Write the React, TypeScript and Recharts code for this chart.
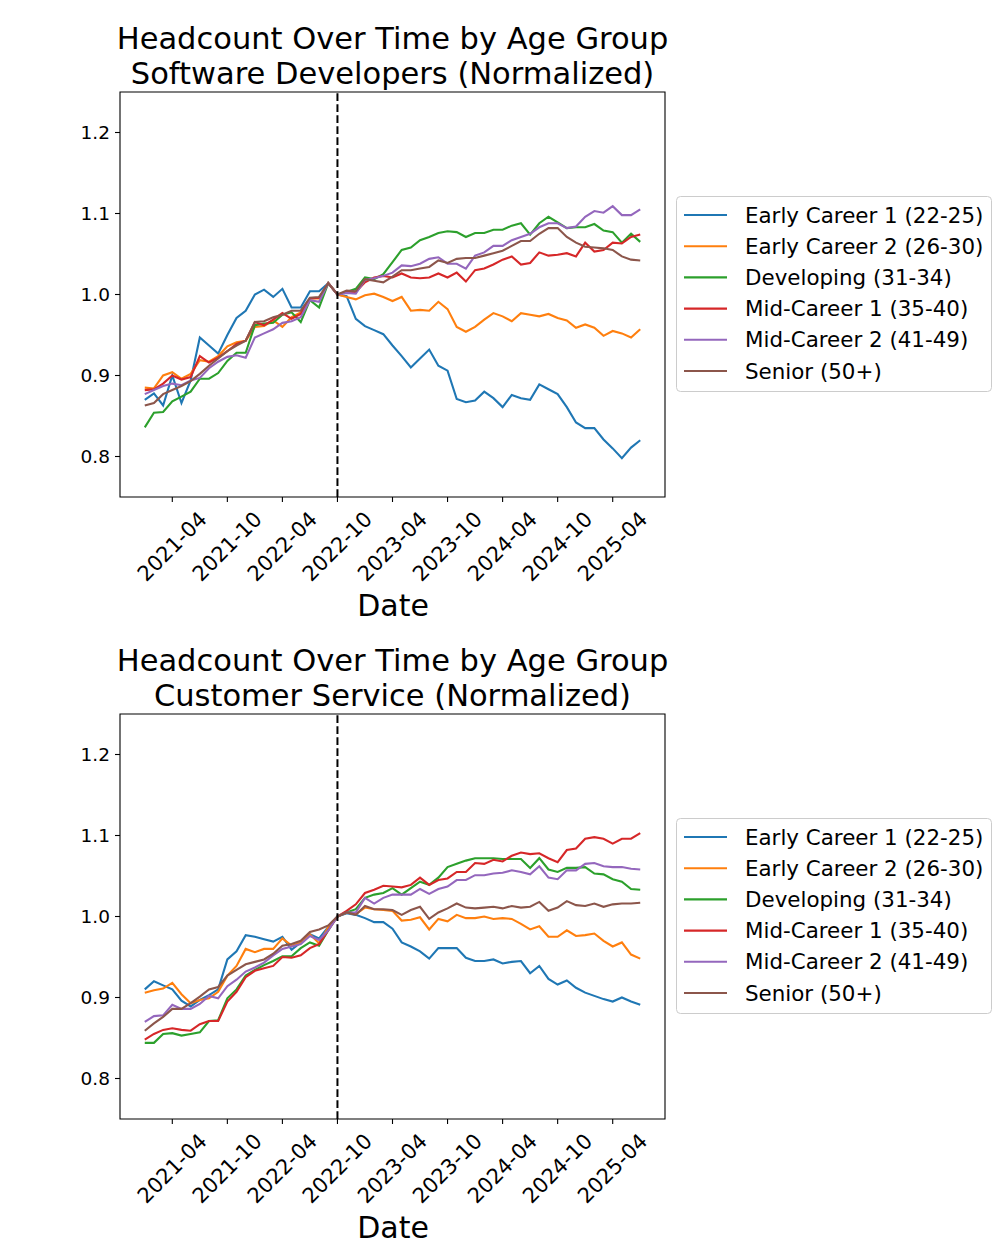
import React from "react";
import { LineChart, Line, XAxis, YAxis, ReferenceLine, ReferenceArea } from "recharts";

const MONTHS = [
  "2021-01", "2021-02", "2021-03", "2021-04", "2021-05", "2021-06", "2021-07", "2021-08", "2021-09", "2021-10", "2021-11", "2021-12",
  "2022-01", "2022-02", "2022-03", "2022-04", "2022-05", "2022-06", "2022-07", "2022-08", "2022-09", "2022-10", "2022-11", "2022-12",
  "2023-01", "2023-02", "2023-03", "2023-04", "2023-05", "2023-06", "2023-07", "2023-08", "2023-09", "2023-10", "2023-11", "2023-12",
  "2024-01", "2024-02", "2024-03", "2024-04", "2024-05", "2024-06", "2024-07", "2024-08", "2024-09", "2024-10", "2024-11", "2024-12",
  "2025-01", "2025-02", "2025-03", "2025-04", "2025-05", "2025-06", "2025-07",
];

const TICK_LABELS = ["2021-04", "2021-10", "2022-04", "2022-10", "2023-04", "2023-10", "2024-04", "2024-10", "2025-04"];
const BASELINE_MONTH = "2022-10";
const Y_TICKS = [0.8, 0.9, 1.0, 1.1, 1.2];

const GROUPS = [
  "Early Career 1 (22-25)",
  "Early Career 2 (26-30)",
  "Developing (31-34)",
  "Mid-Career 1 (35-40)",
  "Mid-Career 2 (41-49)",
  "Senior (50+)",
];
const COLORS = ["#1f77b4", "#ff7f0e", "#2ca02c", "#d62728", "#9467bd", "#8c564b"];

// Software Developers
const SWE_EARLY1 = [0.870, 0.878, 0.863, 0.900, 0.866, 0.894, 0.947, 0.937, 0.927, 0.950, 0.971, 0.980, 1.000, 1.006, 0.997, 1.007, 0.984, 0.984, 1.004, 1.004, 1.014, 1.000, 0.998, 0.970, 0.961, 0.956, 0.951, 0.937, 0.924, 0.910, 0.921, 0.932, 0.912, 0.906, 0.871, 0.867, 0.869, 0.880, 0.872, 0.861, 0.876, 0.872, 0.870, 0.889, 0.883, 0.877, 0.861, 0.842, 0.835, 0.835, 0.821, 0.810, 0.798, 0.811, 0.820];
const SWE_EARLY2 = [0.885, 0.884, 0.900, 0.904, 0.896, 0.902, 0.919, 0.917, 0.924, 0.936, 0.941, 0.943, 0.960, 0.961, 0.968, 0.960, 0.972, 0.978, 0.995, 0.995, 1.014, 1.000, 0.997, 0.994, 0.999, 1.001, 0.997, 0.992, 0.997, 0.980, 0.981, 0.980, 0.991, 0.982, 0.960, 0.954, 0.960, 0.969, 0.977, 0.973, 0.967, 0.977, 0.975, 0.973, 0.976, 0.971, 0.968, 0.959, 0.963, 0.959, 0.949, 0.955, 0.952, 0.947, 0.957];
const SWE_DEV = [0.836, 0.854, 0.855, 0.868, 0.874, 0.880, 0.896, 0.896, 0.903, 0.918, 0.928, 0.928, 0.962, 0.964, 0.965, 0.975, 0.978, 0.966, 0.993, 0.984, 1.014, 1.000, 1.003, 1.007, 1.021, 1.019, 1.025, 1.040, 1.055, 1.058, 1.067, 1.071, 1.076, 1.078, 1.077, 1.071, 1.076, 1.076, 1.080, 1.080, 1.085, 1.088, 1.074, 1.088, 1.096, 1.089, 1.082, 1.083, 1.083, 1.087, 1.079, 1.077, 1.064, 1.075, 1.065];
const SWE_MID1 = [0.882, 0.883, 0.890, 0.900, 0.895, 0.898, 0.924, 0.916, 0.922, 0.930, 0.939, 0.943, 0.966, 0.962, 0.969, 0.977, 0.970, 0.976, 0.995, 0.996, 1.014, 1.000, 1.003, 1.003, 1.015, 1.021, 1.023, 1.021, 1.026, 1.021, 1.020, 1.021, 1.026, 1.021, 1.027, 1.016, 1.030, 1.032, 1.037, 1.043, 1.047, 1.037, 1.039, 1.052, 1.048, 1.049, 1.051, 1.047, 1.064, 1.053, 1.055, 1.064, 1.063, 1.071, 1.074];
const SWE_MID2 = [0.877, 0.882, 0.887, 0.890, 0.888, 0.894, 0.897, 0.909, 0.917, 0.923, 0.925, 0.922, 0.947, 0.952, 0.957, 0.965, 0.967, 0.972, 0.993, 0.991, 1.014, 1.000, 1.002, 1.001, 1.018, 1.020, 1.023, 1.027, 1.036, 1.035, 1.038, 1.044, 1.046, 1.038, 1.038, 1.032, 1.048, 1.052, 1.060, 1.060, 1.067, 1.071, 1.075, 1.083, 1.088, 1.088, 1.082, 1.084, 1.096, 1.103, 1.101, 1.109, 1.098, 1.098, 1.105];
const SWE_SENIOR = [0.863, 0.866, 0.877, 0.882, 0.887, 0.893, 0.902, 0.912, 0.921, 0.930, 0.937, 0.943, 0.966, 0.967, 0.972, 0.975, 0.980, 0.980, 0.996, 0.997, 1.014, 1.000, 1.005, 1.004, 1.019, 1.017, 1.015, 1.022, 1.030, 1.030, 1.032, 1.034, 1.042, 1.039, 1.044, 1.045, 1.045, 1.048, 1.051, 1.054, 1.060, 1.066, 1.066, 1.075, 1.082, 1.082, 1.071, 1.064, 1.059, 1.058, 1.057, 1.055, 1.047, 1.043, 1.042];

// Customer Service
const CS_EARLY1 = [0.910, 0.920, 0.915, 0.910, 0.896, 0.889, 0.897, 0.903, 0.910, 0.947, 0.957, 0.977, 0.975, 0.972, 0.969, 0.975, 0.959, 0.968, 0.978, 0.973, 0.987, 1.000, 1.004, 1.002, 0.998, 0.993, 0.993, 0.985, 0.968, 0.963, 0.957, 0.948, 0.961, 0.961, 0.961, 0.949, 0.945, 0.945, 0.947, 0.942, 0.944, 0.945, 0.930, 0.939, 0.923, 0.916, 0.921, 0.912, 0.906, 0.902, 0.898, 0.895, 0.900, 0.895, 0.891];
const CS_EARLY2 = [0.906, 0.909, 0.911, 0.918, 0.904, 0.893, 0.897, 0.899, 0.907, 0.927, 0.939, 0.960, 0.956, 0.960, 0.960, 0.973, 0.964, 0.968, 0.978, 0.967, 0.987, 1.000, 1.005, 1.003, 1.011, 1.009, 1.008, 1.007, 0.995, 0.996, 0.999, 0.984, 0.997, 0.994, 1.002, 0.998, 0.998, 1.000, 0.997, 0.998, 0.997, 0.991, 0.984, 0.988, 0.975, 0.975, 0.983, 0.976, 0.977, 0.979, 0.970, 0.963, 0.968, 0.953, 0.948];
const CS_DEV = [0.844, 0.844, 0.855, 0.856, 0.853, 0.855, 0.857, 0.871, 0.872, 0.899, 0.910, 0.927, 0.934, 0.940, 0.945, 0.951, 0.951, 0.961, 0.968, 0.964, 0.983, 1.000, 1.005, 1.009, 1.023, 1.027, 1.029, 1.035, 1.027, 1.035, 1.043, 1.039, 1.048, 1.061, 1.065, 1.069, 1.072, 1.072, 1.072, 1.071, 1.071, 1.071, 1.060, 1.072, 1.058, 1.055, 1.060, 1.060, 1.061, 1.053, 1.052, 1.046, 1.043, 1.034, 1.033];
const CS_MID1 = [0.848, 0.855, 0.860, 0.862, 0.860, 0.859, 0.867, 0.871, 0.871, 0.895, 0.907, 0.925, 0.933, 0.936, 0.939, 0.950, 0.949, 0.952, 0.961, 0.966, 0.983, 1.000, 1.007, 1.015, 1.029, 1.033, 1.038, 1.037, 1.036, 1.039, 1.048, 1.039, 1.045, 1.047, 1.055, 1.055, 1.066, 1.065, 1.070, 1.068, 1.075, 1.079, 1.077, 1.078, 1.072, 1.067, 1.082, 1.084, 1.096, 1.098, 1.096, 1.090, 1.096, 1.096, 1.103];
const CS_MID2 = [0.870, 0.877, 0.878, 0.891, 0.886, 0.886, 0.892, 0.902, 0.899, 0.914, 0.922, 0.932, 0.937, 0.943, 0.952, 0.960, 0.963, 0.966, 0.976, 0.971, 0.983, 1.000, 1.005, 1.005, 1.023, 1.016, 1.023, 1.027, 1.027, 1.027, 1.034, 1.028, 1.034, 1.037, 1.045, 1.045, 1.051, 1.051, 1.053, 1.054, 1.057, 1.055, 1.052, 1.062, 1.048, 1.046, 1.057, 1.057, 1.065, 1.066, 1.062, 1.061, 1.061, 1.059, 1.058];
const CS_SENIOR = [0.859, 0.868, 0.876, 0.886, 0.886, 0.893, 0.901, 0.910, 0.913, 0.927, 0.934, 0.941, 0.944, 0.947, 0.954, 0.964, 0.966, 0.970, 0.981, 0.984, 0.989, 1.000, 1.005, 1.002, 1.013, 1.009, 1.009, 1.008, 1.002, 1.008, 1.012, 0.997, 1.005, 1.010, 1.016, 1.011, 1.010, 1.011, 1.012, 1.010, 1.013, 1.011, 1.012, 1.018, 1.007, 1.011, 1.019, 1.014, 1.013, 1.016, 1.012, 1.015, 1.016, 1.016, 1.017];

// matplotlib-style 5% margins around the month index range
const X_PAD = (MONTHS.length - 1) * 0.05;
const X_DOMAIN: [number, number] = [-X_PAD, MONTHS.length - 1 + X_PAD];
const Y_DOMAIN: [number, number] = [0.75, 1.25];

const FONT = "'DejaVu Sans', sans-serif";

function buildRows(series: number[][]) {
  return MONTHS.map((_, i) => {
    const row: Record<string, number> = { m: i };
    series.forEach((s, k) => {
      row["s" + k] = s[i];
    });
    return row;
  });
}

function DateTick(props: any) {
  const { x, y, payload } = props;
  const cy = y + 40.5;
  return (
    <text
      x={x}
      y={cy}
      textAnchor="middle"
      dominantBaseline="central"
      fontSize={21}
      fill="#000"
      transform={`rotate(-45 ${x} ${cy})`}
    >
      {MONTHS[payload.value]}
    </text>
  );
}

function Panel({ subtitle, series }: { subtitle: string; series: number[][] }) {
  const rows = buildRows(series);
  return (
    <div style={{ position: "relative", width: 1000, height: 622 }}>
      <LineChart
        width={1000}
        height={622}
        data={rows}
        margin={{ top: 92, right: 335, bottom: 0, left: 0 }}
      >
        <ReferenceArea
          x1={X_DOMAIN[0]}
          x2={X_DOMAIN[1]}
          y1={Y_DOMAIN[0]}
          y2={Y_DOMAIN[1]}
          fill="none"
          stroke="#000"
          strokeWidth={1.1}
          ifOverflow="visible"
        />
        <XAxis
          type="number"
          dataKey="m"
          domain={X_DOMAIN}
          ticks={TICK_LABELS.map((l) => MONTHS.indexOf(l))}
          height={125}
          axisLine={false}
          tickLine={{ stroke: "#000", strokeWidth: 1.1 }}
          tickSize={5}
          tickMargin={4}
          interval={0}
          tick={<DateTick />}
        />
        <YAxis
          type="number"
          domain={Y_DOMAIN}
          ticks={Y_TICKS}
          width={120}
          axisLine={false}
          tickLine={{ stroke: "#000", strokeWidth: 1.1 }}
          tickSize={5}
          tickMargin={5}
          interval={0}
          tick={{ fontSize: 18.5, fill: "#000" }}
          tickFormatter={(v: number) => v.toFixed(1)}
        />
        {GROUPS.map((g, k) => (
          <Line
            key={g}
            type="linear"
            dataKey={"s" + k}
            name={g}
            stroke={COLORS[k]}
            strokeWidth={2.1}
            dot={false}
            activeDot={false}
            isAnimationActive={false}
          />
        ))}
        <ReferenceLine
          x={MONTHS.indexOf(BASELINE_MONTH)}
          stroke="#000"
          strokeWidth={2}
          strokeDasharray="7.7 3.3"
        />
      </LineChart>
      <svg
        width={1000}
        height={622}
        style={{ position: "absolute", left: 0, top: 0, pointerEvents: "none" }}
      >
        <text x={392.5} y={49} textAnchor="middle" fontSize={30.5} fill="#000">
          Headcount Over Time by Age Group
        </text>
        <text x={392.5} y={83.5} textAnchor="middle" fontSize={30.5} fill="#000">
          {subtitle}
        </text>
        <text x={393} y={615.5} textAnchor="middle" fontSize={30} fill="#000">
          Date
        </text>
        <rect
          x={676.5}
          y={196.5}
          width={315}
          height={195}
          rx={4}
          fill="#fff"
          fillOpacity={0.8}
          stroke="#cccccc"
          strokeWidth={1}
        />
        {GROUPS.map((g, k) => {
          const cy = 215 + k * 31.2;
          return (
            <g key={g}>
              <line x1={684} x2={727} y1={cy} y2={cy} stroke={COLORS[k]} strokeWidth={2.1} />
              <text x={745} y={cy} dominantBaseline="central" fontSize={21.4} fill="#000">
                {g}
              </text>
            </g>
          );
        })}
      </svg>
    </div>
  );
}

export default function App() {
  return (
    <div
      style={{
        position: "absolute",
        left: 0,
        top: 0,
        width: 1000,
        height: 1255,
        background: "#fff",
        fontFamily: FONT,
      }}
    >
      <Panel
        subtitle="Software Developers (Normalized)"
        series={[SWE_EARLY1, SWE_EARLY2, SWE_DEV, SWE_MID1, SWE_MID2, SWE_SENIOR]}
      />
      <Panel
        subtitle="Customer Service (Normalized)"
        series={[CS_EARLY1, CS_EARLY2, CS_DEV, CS_MID1, CS_MID2, CS_SENIOR]}
      />
    </div>
  );
}
